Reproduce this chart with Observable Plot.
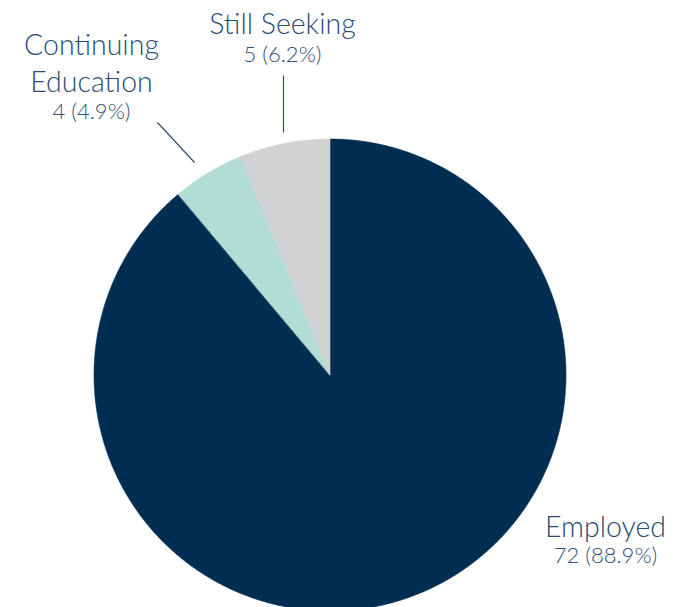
<!DOCTYPE html>
<html>
<head>
<meta charset="utf-8">
<script src="https://cdn.jsdelivr.net/npm/d3@7"></script>
<script src="https://cdn.jsdelivr.net/npm/@observablehq/plot@0.6"></script>
<style>
  html, body { margin: 0; padding: 0; background: #fff; overflow: hidden; }
</style>
</head>
<body>
<div id="chart"></div>
<script>
// ---- data ----
const categories = ["Employed", "Continuing Education", "Still Seeking"];
const counts = [72, 4, 5];
const colors = ["#002d52", "#b1ddd5", "#d1d2d4"];

// ---- layout (pixels) ----
const W = 685, H = 607;
const cx = 330, cy = 375, R = 236;
const labelLines = ["Employed", "Continuing\nEducation", "Still Seeking"];
const labelX = [605, 91, 282];
const nameBaseline = [536, 91, 33];
const valueBaseline = [562, 118, 61];
const leaderCats = ["Continuing Education", "Still Seeking"];
const leaderX1 = [157, 283], leaderY1 = [122, 75];
const leaderX2 = [194, 283], leaderY2 = [162, 132];

const total = d3.sum(counts);
const pie = d3.pie().sort(null).value(d => d)(counts);

// build wedge outlines from pie angles
const wedge = [];
pie.forEach((p, i) => {
  const steps = Math.max(2, Math.ceil((p.endAngle - p.startAngle) / (Math.PI / 360)));
  for (let k = 0; k <= steps; k++) {
    const a = p.startAngle + (p.endAngle - p.startAngle) * k / steps;
    wedge.push({
      name: categories[i],
      x0: cx, y0: cy,
      x: cx + R * Math.sin(a),
      y: cy - R * Math.cos(a)
    });
  }
});

const labels = categories.map((c, i) => ({
  name: c,
  text: labelLines[i],
  value: `${counts[i]} (${d3.format(".1%")(counts[i] / total)})`,
  x: labelX[i], yn: nameBaseline[i], yv: valueBaseline[i]
}));
const leaders = leaderCats.map((c, i) => ({
  name: c, x1: leaderX1[i], y1: leaderY1[i], x2: leaderX2[i], y2: leaderY2[i]
}));

const chart = Plot.plot({
  width: W, height: H,
  margin: 0,
  x: {domain: [0, W], range: [0, W], axis: null},
  y: {domain: [0, H], range: [0, H], axis: null},
  color: {domain: categories, range: colors},
  style: {fontFamily: "Lato, sans-serif", background: "#fff"},
  marks: [
    Plot.area(wedge, {x1: "x0", y1: "y0", x2: "x", y2: "y", z: "name", fill: "name", stroke: "name", strokeWidth: 0.6}),
    Plot.link(leaders, {x1: "x1", y1: "y1", x2: "x2", y2: "y2", stroke: "#2f4f74", strokeWidth: 1.2}),
    Plot.text(labels, {x: "x", y: "yn", text: "text", fill: "#2a4b72", fontSize: 28.5, fontWeight: 300, lineAnchor: "bottom", lineHeight: 1.27, textAnchor: "middle"}),
    Plot.text(labels, {x: "x", y: "yv", text: "value", fill: "#2f5078", fontSize: 22, fontWeight: 300, lineAnchor: "bottom", textAnchor: "middle"})
  ]
});
document.getElementById("chart").appendChild(chart);
</script>
</body>
</html>
